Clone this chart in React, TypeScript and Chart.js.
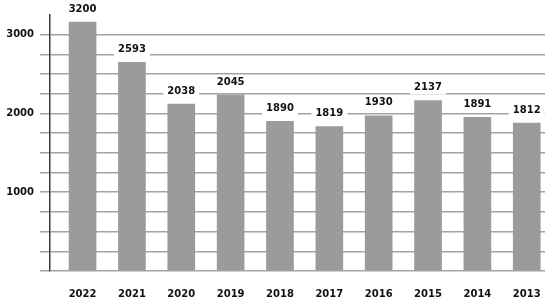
import React, { useEffect, useRef } from 'react';
import { Chart, registerables } from 'chart.js';

Chart.register(...registerables);

// Categories (years, left to right)
const years = ['2022', '2021', '2020', '2019', '2018', '2017', '2016', '2015', '2014', '2013'];
// Bar heights as drawn in the picture
const barValues = [3160, 2650, 2120, 2235, 1900, 1835, 1970, 2165, 1950, 1877];
// Value labels printed above the bars
const valueLabels = ['3200', '2593', '2038', '2045', '1890', '1819', '1930', '2137', '1891', '1812'];
// Labelled y ticks (grid every 250)
const yLabelledTicks = [1000, 2000, 3000];

const FONT = 'DejaVu Sans';

const labelPlugin = {
  id: 'valueLabels',
  afterDatasetsDraw(chart: any) {
    const ctx = chart.ctx;
    const meta = chart.getDatasetMeta(0);
    ctx.save();
    ctx.font = `bold 10px "${FONT}"`;
    ctx.textAlign = 'center';
    ctx.textBaseline = 'middle';
    meta.data.forEach((bar: any, i: number) => {
      const text = valueLabels[i];
      const cx = bar.x;
      const cy = bar.y - 13;
      const w = ctx.measureText(text).width + 8;
      ctx.fillStyle = '#ffffff';
      ctx.fillRect(cx - w / 2, cy - 7, w, 14);
      ctx.fillStyle = '#111111';
      ctx.fillText(text, cx, cy);
    });
    ctx.restore();
  },
};

export default function App() {
  const canvasRef = useRef<HTMLCanvasElement | null>(null);

  useEffect(() => {
    if (!canvasRef.current) return;
    const chart = new Chart(canvasRef.current, {
      type: 'bar',
      data: {
        datasets: [
          {
            data: years.map((_, i) => ({ x: i, y: barValues[i] })),
            backgroundColor: '#9b9b9b',
            borderWidth: 0,
            barThickness: 27,
          },
        ],
      },
      options: {
        animation: false,
        responsive: true,
        maintainAspectRatio: false,
        layout: { padding: { top: 15, right: 5, left: 0, bottom: 0 } },
        plugins: {
          legend: { display: false },
          tooltip: { enabled: false },
        },
        scales: {
          x: {
            type: 'linear',
            offset: false,
            min: -0.66,
            max: 9.37,
            grid: { display: false, drawTicks: false, offset: false },
            border: { display: false },
            ticks: {
              stepSize: 1,
              includeBounds: false,
              autoSkip: false,
              maxRotation: 0,
              padding: 17,
              color: '#111111',
              font: { family: FONT, size: 10, weight: 'bold' },
              callback: (v: any) => (Number.isInteger(v) && years[v] ? years[v] : ''),
            },
            afterFit: (scale: any) => {
              scale.height = 33;
              scale.paddingLeft = 0;
              scale.paddingRight = 0;
            },
          },
          y: {
            min: 0,
            max: 3250,
            grid: {
              color: (c: any) => (c.tick && c.tick.value > 3000 ? 'rgba(0,0,0,0)' : '#a3a3a3'),
              lineWidth: 1.5,
              tickLength: 10,
              drawTicks: true,
            },
            border: { display: true, color: '#3a3a3a', width: 1.5 },
            ticks: {
              stepSize: 250,
              autoSkip: false,
              padding: 6,
              color: '#111111',
              font: { family: FONT, size: 10, weight: 'bold' },
              callback: (v: any) => (yLabelledTicks.includes(Number(v)) ? String(v) : ''),
            },
            afterFit: (scale: any) => {
              scale.width = 50;
            },
          },
        },
      },
      plugins: [labelPlugin],
    });
    return () => chart.destroy();
  }, []);

  return (
    <div style={{ position: 'fixed', left: 0, top: 0, width: 550, height: 304, background: '#ffffff' }}>
      <canvas ref={canvasRef} />
    </div>
  );
}
